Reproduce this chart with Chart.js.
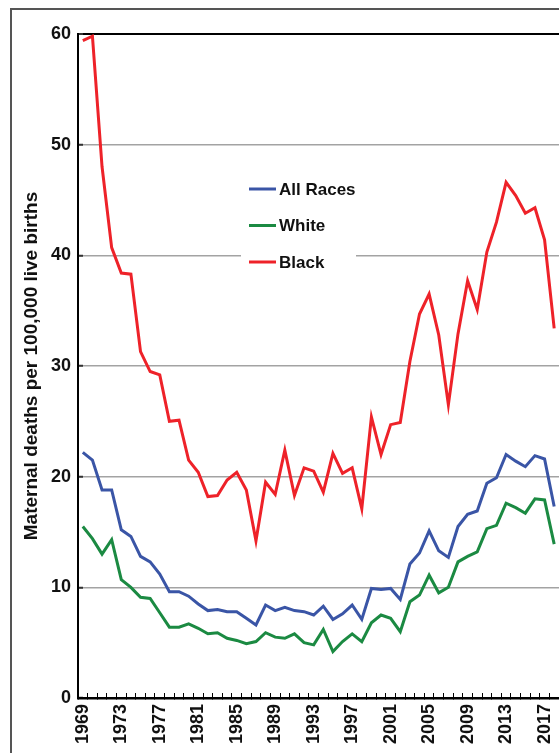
<!DOCTYPE html>
<html>
<head>
<meta charset="utf-8">
<script src="https://cdn.jsdelivr.net/npm/chart.js@4.4.1/dist/chart.umd.min.js"></script>
<style>
  html, body { margin: 0; padding: 0; background: #fff; overflow: hidden; }
  #wrap { position: relative; width: 559px; height: 753px; overflow: hidden; }
  #frame { position: absolute; left: 10px; top: 8px; width: 700px; height: 900px; border: 2px solid #555; }
  #chart { position: absolute; left: 0; top: 0; }
</style>
</head>
<body>
<div id="wrap">
  <div id="frame"></div>
  <canvas id="chart" width="559" height="753"></canvas>
</div>
<script>
// years on the x axis
const years = [
  '1969','1970','1971','1972','1973','1974','1975','1976','1977','1978',
  '1979','1980','1981','1982','1983','1984','1985','1986','1987','1988',
  '1989','1990','1991','1992','1993','1994','1995','1996','1997','1998',
  '1999','2000','2001','2002','2003','2004','2005','2006','2007','2008',
  '2009','2010','2011','2012','2013','2014','2015','2016','2017','2018'
];
// only every 4th year gets a label
const labelYears = ['1969','1973','1977','1981','1985','1989','1993','1997','2001','2005','2009','2013','2017'];

// maternal deaths per 100,000 live births
const allRaces = [
  22.2, 21.5, 18.8, 18.8, 15.2, 14.6, 12.8, 12.3, 11.2, 9.6,
  9.6, 9.2, 8.5, 7.9, 8.0, 7.8, 7.8, 7.2, 6.6, 8.4,
  7.9, 8.2, 7.9, 7.8, 7.5, 8.3, 7.1, 7.6, 8.4, 7.1,
  9.9, 9.8, 9.9, 8.9, 12.1, 13.1, 15.1, 13.3, 12.7, 15.5,
  16.6, 16.9, 19.4, 19.9, 22.0, 21.4, 20.9, 21.9, 21.6, 17.3
];
const white = [
  15.5, 14.4, 13.0, 14.3, 10.7, 10.0, 9.1, 9.0, 7.7, 6.4,
  6.4, 6.7, 6.3, 5.8, 5.9, 5.4, 5.2, 4.9, 5.1, 5.9,
  5.5, 5.4, 5.8, 5.0, 4.8, 6.2, 4.2, 5.1, 5.8, 5.1,
  6.8, 7.5, 7.2, 6.0, 8.7, 9.3, 11.1, 9.5, 10.0, 12.3,
  12.8, 13.2, 15.3, 15.6, 17.6, 17.2, 16.7, 18.0, 17.9, 13.9
];
const black = [
  59.4, 59.8, 48.0, 40.7, 38.4, 38.3, 31.3, 29.5, 29.2, 25.0,
  25.1, 21.5, 20.4, 18.2, 18.3, 19.7, 20.4, 18.8, 14.2, 19.5,
  18.4, 22.4, 18.3, 20.8, 20.5, 18.6, 22.1, 20.3, 20.8, 17.1,
  25.4, 22.0, 24.7, 24.9, 30.4, 34.7, 36.5, 32.8, 26.5, 32.9,
  37.7, 35.1, 40.3, 43.0, 46.6, 45.4, 43.8, 44.3, 41.4, 33.4
];

const FONT = '"Liberation Sans", Arial, Helvetica, sans-serif';

// legend drawn inside the plot on a white box
const insideLegend = {
  id: 'insideLegend',
  afterDatasetsDraw(chart) {
    const ctx = chart.ctx;
    ctx.save();
    ctx.fillStyle = '#fff';
    ctx.fillRect(241, 168, 115, 112);
    ctx.font = 'bold 17px ' + FONT;
    ctx.textBaseline = 'middle';
    ctx.textAlign = 'left';
    chart.data.datasets.forEach((ds, i) => {
      const y = 189 + i * 36.5;
      ctx.strokeStyle = ds.borderColor;
      ctx.lineWidth = 3;
      ctx.beginPath();
      ctx.moveTo(249, y);
      ctx.lineTo(276, y);
      ctx.stroke();
      ctx.fillStyle = '#111';
      ctx.fillText(ds.label, 279, y + 1);
    });
    ctx.restore();
  }
};

const ctx = document.getElementById('chart').getContext('2d');
new Chart(ctx, {
  type: 'line',
  data: {
    labels: years,
    datasets: [
      { label: 'All Races', data: allRaces, borderColor: '#3a55a6' },
      { label: 'White', data: white, borderColor: '#1b8a42' },
      { label: 'Black', data: black, borderColor: '#ee2229' }
    ]
  },
  options: {
    responsive: false,
    animation: false,
    devicePixelRatio: 1,
    layout: { autoPadding: false, padding: { left: 0, top: 34, right: 0, bottom: 0 } },
    elements: {
      line: { borderWidth: 3, tension: 0, fill: false },
      point: { radius: 0 }
    },
    plugins: {
      legend: { display: false },
      tooltip: { enabled: false }
    },
    scales: {
      x: {
        offset: true,
        afterFit: (scale) => { scale.height = 55; scale.paddingRight = 0; scale.paddingLeft = 0; },
        grid: {
          offset: true,
          drawOnChartArea: false,
          tickLength: -5,
          tickColor: '#000',
          tickWidth: 1
        },
        border: { color: '#000', width: 2.5 },
        ticks: {
          autoSkip: false,
          maxRotation: 90,
          minRotation: 90,
          padding: 11,
          color: '#111',
          font: { family: FONT, size: 18, weight: 'bold' },
          callback: function (value) {
            const lab = this.getLabelForValue(value);
            return labelYears.includes(lab) ? lab : '';
          }
        }
      },
      y: {
        min: 0,
        max: 60,
        afterFit: (scale) => { scale.width = 78; },
        grid: {
          color: (c) => (c.tick && c.tick.value === 60 ? '#000' : '#a3a3a3'),
          lineWidth: (c) => (c.tick && c.tick.value === 60 ? 2 : 1.5),
          tickLength: -5,
          tickColor: '#333',
          tickWidth: 2
        },
        border: { color: '#000', width: 2 },
        ticks: {
          stepSize: 10,
          padding: 12,
          color: '#111',
          font: { family: FONT, size: 18, weight: 'bold' }
        },
        title: {
          display: true,
          text: 'Maternal deaths per 100,000 live births',
          color: '#111',
          padding: { top: 20, bottom: 0 },
          font: { family: FONT, size: 19, weight: 'bold' }
        }
      }
    }
  },
  plugins: [insideLegend]
});
</script>
</body>
</html>
